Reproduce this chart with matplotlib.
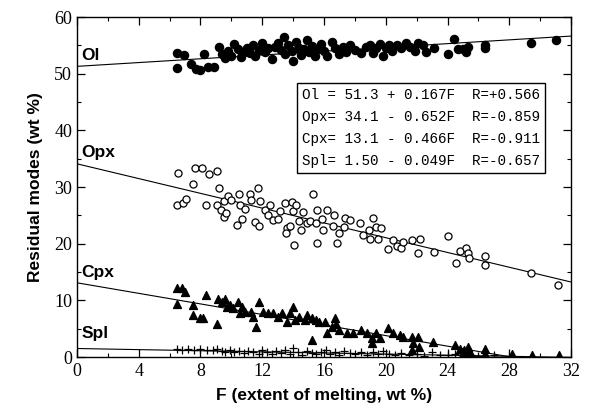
import matplotlib
matplotlib.use('Agg')
import matplotlib.pyplot as plt
from matplotlib.ticker import MultipleLocator
import numpy as np

ol_F = [6.5, 6.5, 6.9, 7.4, 7.7, 8.0, 8.2, 8.5, 8.9, 9.2, 9.4, 9.6, 9.8, 10.0, 10.2, 10.4,
        10.6, 10.8, 11.0, 11.2, 11.4, 11.5, 11.8, 12.0, 12.2, 12.4, 12.6, 12.8, 13.0, 13.2,
        13.4, 13.5, 13.7, 13.9, 14.0, 14.2, 14.4, 14.5, 14.7, 14.9, 15.0, 15.2, 15.4, 15.6,
        15.8, 16.0, 16.2, 16.5, 16.7, 17.0, 17.2, 17.4, 17.7, 18.0, 18.4, 18.7, 19.0, 19.2,
        19.4, 19.6, 19.8, 20.0, 20.2, 20.4, 20.7, 21.0, 21.3, 21.6, 21.9, 22.1, 22.4, 22.6,
        23.1, 24.0, 24.4, 24.7, 25.0, 25.2, 25.3, 26.4, 26.4, 29.4, 31.0]
ol_y = [53.6, 51.0, 53.3, 51.8, 50.9, 50.6, 53.4, 51.2, 51.2, 54.7, 53.5, 52.8, 54.0, 53.2,
        55.2, 54.3, 53.0, 53.8, 54.5, 53.6, 55.0, 53.2, 54.2, 55.5, 53.9, 54.6, 52.6, 54.8,
        55.5, 54.2, 56.4, 53.4, 55.0, 54.0, 52.2, 55.6, 54.6, 53.3, 54.4, 55.9, 53.8, 54.9,
        53.1, 54.3, 55.2, 54.0, 53.2, 55.6, 54.5, 53.5, 54.7, 53.9, 55.0, 54.2, 53.6, 54.8,
        55.0, 53.7, 54.5, 55.3, 53.2, 54.6, 55.0, 54.0, 55.1, 54.5, 55.4, 54.8, 54.0, 55.4,
        55.1, 53.8, 54.6, 53.4, 56.2, 54.4, 54.3, 53.9, 54.7, 55.1, 54.6, 55.5, 55.9]

opx_F = [6.56, 6.5, 6.85, 7.06, 7.5, 7.62, 8.07, 8.33, 8.55, 9.09, 9.2, 9.09, 9.33, 9.5,
         9.63, 9.5, 9.8, 10.0, 10.34, 10.49, 10.67, 10.56, 10.88, 11.2, 11.3, 11.53, 11.7,
         11.85, 11.8, 12.18, 12.4, 12.5, 12.7, 13.04, 13.15, 13.5, 13.58, 13.54, 13.8, 13.95,
         14.0, 14.07, 14.2, 14.4, 14.5, 14.66, 14.87, 15.1, 15.26, 15.52, 15.56, 15.5, 15.85,
         15.95, 16.17, 16.65, 16.6, 16.86, 17.0, 17.36, 17.3, 17.7, 18.3, 18.55, 18.9, 18.98,
         19.15, 19.37, 19.5, 19.7, 20.16, 20.5, 20.7, 20.96, 21.1, 21.7, 22.1, 22.2, 23.1,
         24.05, 24.55, 24.8, 25.2, 25.35, 25.4, 26.4, 26.4, 29.4, 31.15]
opx_y = [32.4, 26.8, 27.1, 27.9, 30.6, 33.4, 33.4, 26.8, 32.3, 32.8, 29.9, 26.8, 25.9, 24.7,
         25.4, 27.5, 28.4, 27.7, 23.3, 28.7, 24.4, 26.8, 26.2, 28.7, 27.7, 23.9, 29.9, 27.5,
         23.1, 25.9, 25.0, 26.8, 24.2, 24.4, 25.7, 27.1, 22.7, 21.8, 23.1, 27.4, 25.8, 19.8,
         26.8, 24.0, 22.4, 25.6, 23.7, 24.0, 28.7, 20.1, 25.9, 23.7, 24.4, 22.4, 25.9, 25.0,
         23.1, 20.1, 21.8, 24.6, 22.9, 24.2, 23.6, 21.5, 22.4, 20.8, 24.6, 23.0, 20.8, 22.7,
         19.0, 20.6, 19.6, 19.3, 20.3, 20.6, 18.3, 20.8, 18.6, 21.3, 16.6, 18.7, 19.2, 18.3,
         17.4, 17.8, 16.2, 14.8, 12.7]

cpx_F = [6.5, 6.78, 7.0, 6.5, 7.5, 7.53, 7.97, 8.33, 8.18, 9.1, 9.15, 9.37, 9.59, 9.7, 9.9,
         10.1, 10.45, 10.67, 10.88, 10.56, 11.3, 11.4, 11.8, 11.6, 12.07, 12.4, 12.7, 13.04,
         13.25, 13.58, 13.8, 14.0, 14.1, 14.4, 14.77, 14.88, 15.2, 15.2, 15.5, 15.7, 16.06,
         16.17, 16.5, 16.7, 16.8, 17.0, 17.47, 17.9, 18.4, 18.76, 19.1, 19.1, 19.4, 19.6,
         20.16, 20.5, 20.9, 21.1, 21.7, 21.74, 22.1, 22.17, 21.7, 23.07, 24.5, 24.8, 25.1,
         25.35, 25.45, 26.4, 26.4, 28.15, 29.45, 31.2]
cpx_y = [12.1, 12.1, 11.5, 9.35, 9.2, 7.5, 6.8, 10.9, 6.9, 5.9, 10.3, 9.75, 10.3, 8.9, 9.2,
         8.6, 9.75, 8.9, 8.0, 7.7, 8.0, 7.1, 9.75, 5.3, 8.0, 7.7, 7.7, 7.1, 7.7, 6.2, 7.7, 8.9,
         6.5, 7.1, 6.5, 7.4, 6.8, 3.0, 6.5, 6.2, 6.2, 4.2, 5.3, 6.8, 5.9, 4.8, 4.2, 4.2, 4.8,
         4.2, 3.3, 2.4, 4.2, 3.3, 5.1, 4.2, 3.9, 3.6, 3.6, 2.4, 3.6, 1.8, 1.2, 2.7, 2.1, 1.5,
         1.2, 1.8, 0.9, 1.5, 0.6, 0.6, 0.35, 0.35]

spl_F = [6.5, 6.8, 7.2, 7.6, 8.0, 8.4, 8.8, 9.1, 9.4, 9.6, 9.9, 10.2, 10.5, 10.8, 11.1, 11.4,
         11.8, 12.0, 12.3, 12.6, 12.9, 13.2, 13.5, 13.8, 14.0, 14.3, 14.6, 14.9, 15.2, 15.5,
         15.8, 16.1, 16.4, 16.7, 17.0, 17.3, 17.7, 18.0, 18.4, 18.8, 19.2, 19.5, 19.8, 20.2,
         20.6, 21.0, 21.5, 22.0, 22.5, 23.0, 23.5, 24.0, 24.5, 25.0, 25.5, 26.0, 27.0, 28.0]
spl_y = [1.4, 1.2, 1.5, 1.3, 1.4, 1.2, 1.3, 1.5, 1.1, 0.9, 1.2, 0.8, 1.0, 0.7, 1.1, 0.9,
         0.6, 1.3, 0.8, 0.5, 1.0, 0.7, 1.2, 0.6, 1.6, 0.9, 0.4, 1.1, 0.7, 0.5, 0.9, 1.3, 0.6,
         0.8, 0.4, 1.0, 0.7, 0.5, 0.9, 0.3, 0.8, 0.5, 1.1, 0.6, 0.4, 0.7, 0.3, 0.6, 0.2, 0.8,
         0.4, 0.3, 0.5, 0.2, 0.4, 0.1, 0.3, 0.2]

# regression lines: y = a + b*F
names = ['Ol', 'Opx', 'Cpx', 'Spl']
fit_a = [51.3, 34.1, 13.1, 1.50]
fit_b = [0.167, -0.652, -0.466, -0.049]
fit_R = ['+0.566', '-0.859', '-0.911', '-0.657']

fig = plt.figure(figsize=(5.94, 4.16), dpi=100)
ax = fig.add_axes([0.1296, 0.1418, 0.8317, 0.8172])

F = np.linspace(0, 32, 200)
for a, b in zip(fit_a, fit_b):
    ax.plot(F, a + b * F, color='black', lw=0.8, zorder=1)

ax.scatter(ol_F, ol_y, s=34, color='black', zorder=2)
ax.scatter(opx_F, opx_y, s=26, facecolors='white', edgecolors='black', linewidths=0.9, zorder=2)
ax.scatter(cpx_F, cpx_y, s=32, marker='^', color='black', zorder=2)
ax.scatter(spl_F, spl_y, s=28, marker='+', color='black', linewidths=0.9, zorder=2)

lbl = dict(fontsize=12.5, fontweight='bold', family='Liberation Sans')
ax.text(0.3, 52.4, 'Ol', **lbl)
ax.text(0.3, 35.3, 'Opx', **lbl)
ax.text(0.3, 14.1, 'Cpx', **lbl)
ax.text(0.3, 3.4, 'Spl', **lbl)

rows = []
for n, a, b, r in zip(names, fit_a, fit_b, fit_R):
    sign = '+' if b > 0 else '-'
    head = (n + ' =') if n == 'Ol' else (n + '=')
    rows.append('%-4s %4.1f %s %5.3fF  R=%s' % (head, a, sign, abs(b), r) if n != 'Spl'
                else '%-4s %4.2f %s %5.3fF  R=%s' % (head, a, sign, abs(b), r))
ax.text(14.6, 40.4, '\n'.join(rows), family='Liberation Mono', fontsize=10.3,
        va='center', ha='left', linespacing=1.75,
        bbox=dict(boxstyle='square,pad=0.35', fc='white', ec='black', lw=1.0), zorder=3)

ax.set_xlim(0, 32)
ax.set_ylim(0, 60)
ax.xaxis.set_major_locator(MultipleLocator(4))
ax.xaxis.set_minor_locator(MultipleLocator(2))
ax.yaxis.set_major_locator(MultipleLocator(10))
ax.yaxis.set_minor_locator(MultipleLocator(5))
ax.tick_params(which='both', direction='in', top=True, right=True)
ax.tick_params(which='major', length=6, width=0.9)
ax.tick_params(which='minor', length=3, width=0.8)
for t in ax.get_xticklabels() + ax.get_yticklabels():
    t.set_family('Liberation Serif')
    t.set_fontsize(13)
ax.tick_params(axis='x', pad=4)

ax.set_xlabel('F (extent of melting, wt %)', fontsize=12.5, fontweight='bold',
              family='Liberation Sans', labelpad=6)
ax.set_ylabel('Residual modes (wt %)', fontsize=12.5, fontweight='bold',
              family='Liberation Sans', labelpad=8)
for s in ax.spines.values():
    s.set_linewidth(1.0)

fig.savefig('out.png', dpi=100)
